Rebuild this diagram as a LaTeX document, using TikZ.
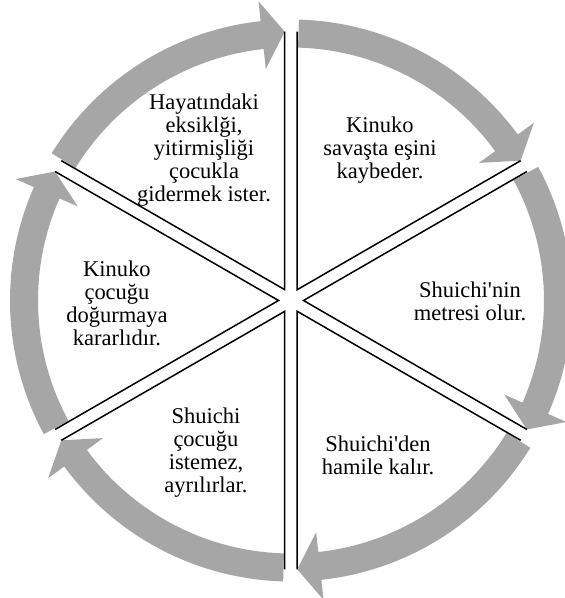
\documentclass[tikz,border=0pt]{standalone}
\usepackage{fontspec}
\setmainfont{Liberation Serif}
\usetikzlibrary{calc}
\definecolor{arrowgray}{RGB}{166,166,166}

\begin{document}
\begin{tikzpicture}[
  sector/.style={draw=black, line width=1.5pt, line join=miter},
  cycarrow/.style={fill=arrowgray},
  txt/.style={align=center, font=\fontsize{22.5}{23}\selectfont, inner sep=0pt}
]
  \useasboundingbox (-291pt,-297.5pt) rectangle (274pt,300.5pt);

  \foreach \a in {90,30,-30,-90,-150,150}
    \fill[cycarrow] (\a-1.6:253pt) arc[start angle=\a-1.6, end angle=\a-53.8, radius=253pt]
      -- (\a-53.8:233pt) -- ($(\a-30:12.5pt)+(\a-60:258pt)$) -- (\a-53.8:301pt)
      -- (\a-53.8:281pt) arc[start angle=\a-53.8, end angle=\a-1.6, radius=281pt] -- cycle;

  \foreach \b in {60,0,-60,-120,180,120}
    \draw[sector, shift={(\b:12.5pt)}] (\b+30:258pt) -- (0,0) -- (\b-30:258pt);

  \node[txt] (hayat) at (-87pt,150pt) {Hayatındaki\\eksiklği,\\yitirmişliği\\çocukla\\gidermek ister.};
  \node[txt] (savas) at (89pt,150.5pt) {Kinuko\\savaşta eşini\\kaybeder.};
  \node[txt] (metres) at (179pt,-0.5pt) {Shuichi\textquotesingle nin\\metresi olur.};
  \node[txt] (hamile) at (87pt,-154.5pt) {Shuichi\textquotesingle den\\hamile kalır.};
  \node[txt] (ayril) at (-85pt,-152.5pt) {Shuichi\\çocuğu\\istemez,\\ayrılırlar.};
  \node[txt] (karar) at (-174pt,-2.5pt) {Kinuko\\çocuğu\\doğurmaya\\kararlıdır.};
\end{tikzpicture}
\end{document}
